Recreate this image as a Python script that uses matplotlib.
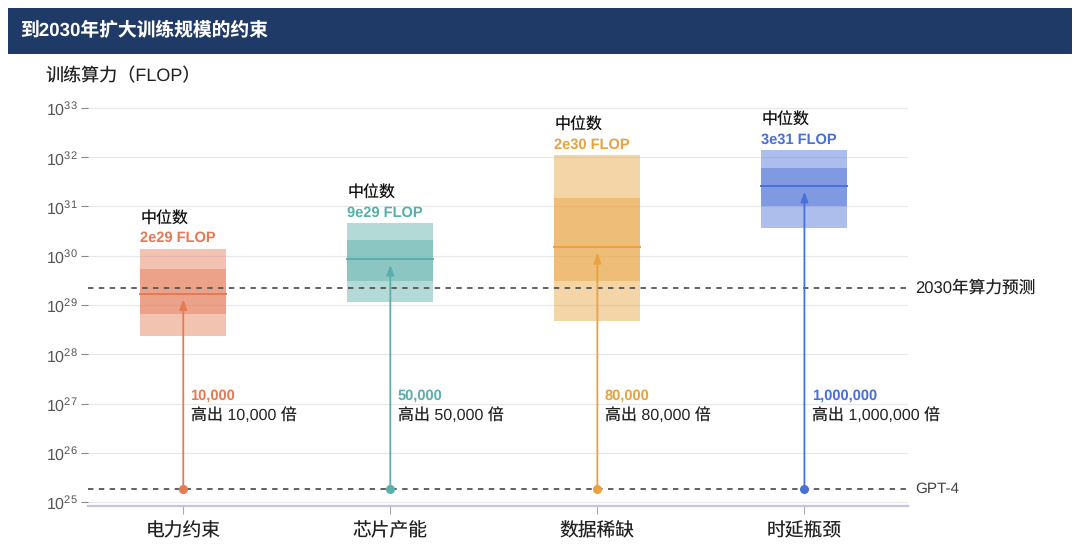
import numpy as np
import matplotlib
matplotlib.use('Agg')
from matplotlib import pyplot as plt
from matplotlib.patches import Rectangle
from matplotlib.transforms import blended_transform_factory

plt.rcParams['font.family'] = ['Liberation Sans', 'Noto Sans CJK SC', 'DejaVu Sans']
plt.rcParams['mathtext.fontset'] = 'custom'
plt.rcParams['mathtext.rm'] = 'Liberation Sans'
plt.rcParams['mathtext.it'] = 'Liberation Sans:italic'
plt.rcParams['mathtext.bf'] = 'Liberation Sans:bold'
plt.rcParams['text.hinting'] = 'no_hinting'
CJK = 'Noto Sans CJK SC'

# data
categories = ['电力约束', '芯片产能', '数据稀缺', '时延瓶颈']
colors = ['#E57A55', '#5AAFAA', '#E8A23F', '#4A6FD6']
outer_lo = [2.3e28, 1.15e29, 4.8e28, 3.6e30]
outer_hi = [1.4e30, 4.6e30, 1.1e32, 1.4e32]
inner_lo = [6.6e28, 3.1e29, 3.0e29, 1.0e31]
inner_hi = [5.4e29, 2.1e30, 1.5e31, 6.0e31]
medians = [1.7e29, 8.5e29, 1.5e30, 2.6e31]
median_labels = ['2e29 FLOP', '9e29 FLOP', '2e30 FLOP', '3e31 FLOP']
ratio_labels = ['10,000', '50,000', '80,000', '1,000,000']
gpt4 = 1.85e25
proj_2030 = 2.2e29

fig = plt.figure(figsize=(10.8, 5.46), dpi=100)

# title bar
fig.patches.append(Rectangle((0.0074, 0.901), 0.985, 0.084, transform=fig.transFigure,
                             facecolor='#1F3A66', edgecolor='none', zorder=0))
fig.text(0.0185, 0.943, '到2030年扩大训练规模的约束', color='white', fontsize=13.5,
         fontweight='bold', va='center', ha='left')
fig.text(0.042, 0.861, '训练算力（FLOP）', color='#222222', fontsize=13, va='center', ha='left')

ax = fig.add_axes([0.0815, 0.0733, 0.7592, 0.7335])
ax.set_yscale('log')
ax.set_ylim(10**24.92, 10**33.05)
ax.set_xlim(-0.46, 3.5)

ax.set_yticks([10.0**k for k in range(25, 34)])
ax.yaxis.set_minor_locator(matplotlib.ticker.NullLocator())
ax.grid(axis='y', color='#E8E8EC', linewidth=0.9, zorder=0)
ax.set_axisbelow(True)
for s in ['left', 'right', 'top']:
    ax.spines[s].set_visible(False)
ax.spines['bottom'].set_color('#C2C6D6')
ax.spines['bottom'].set_linewidth(1.6)
ax.tick_params(axis='y', length=5, width=0.8, color='#888888', labelcolor='#555555',
               labelsize=11.5, pad=2)
ax.tick_params(axis='x', length=6, width=0.8, color='#AAAAAA')
ax.set_xticks(range(len(categories)))
ax.set_xticklabels([])
# category names on a common baseline
xtr = blended_transform_factory(ax.transData, ax.transAxes)
for i, cat in enumerate(categories):
    ax.text(i, -0.076, cat, transform=xtr, ha='center', va='baseline', fontsize=13.5,
            color='#222222', fontfamily=CJK)

w = 0.415
ax.axhline(proj_2030, color='#555555', linestyle=(0, (3, 3)), linewidth=1.3, zorder=4)
ax.axhline(gpt4, color='#555555', linestyle=(0, (3, 3)), linewidth=1.3, zorder=4)
tr = blended_transform_factory(ax.transAxes, ax.transData)
ax.text(1.009, proj_2030, '2030年算力预测', transform=tr, va='center', ha='left',
        fontsize=12, color='#222222')
ax.text(1.009, gpt4, 'GPT-4', transform=tr, va='center', ha='left',
        fontsize=11, color='#444444')

for i, c in enumerate(colors):
    ax.add_patch(Rectangle((i - w / 2, outer_lo[i]), w, outer_hi[i] - outer_lo[i],
                           facecolor=c, alpha=0.45, edgecolor='none', zorder=2))
    ax.add_patch(Rectangle((i - w / 2, inner_lo[i]), w, inner_hi[i] - inner_lo[i],
                           facecolor=c, alpha=0.45, edgecolor='none', zorder=3))
    ax.plot([i - w / 2, i + w / 2], [medians[i], medians[i]], color=c, linewidth=1.4, zorder=5)
    # arrow from GPT-4 up to the median
    ax.annotate('', xy=(i, medians[i] / 1.3), xytext=(i, gpt4),
                arrowprops=dict(arrowstyle='-|>,head_length=0.6,head_width=0.22',
                                color=c, linewidth=1.3, shrinkA=0, shrinkB=0), zorder=6)
    ax.plot(i, gpt4, 'o', color=c, markersize=5.5, zorder=7)
    # median labels above box
    ax.annotate('中位数', xy=(i - w / 2, outer_hi[i]), xytext=(0, 15.5),
                textcoords='offset points', ha='left', va='bottom', fontsize=11.5,
                color='#111111', fontfamily=CJK)
    ax.annotate(median_labels[i], xy=(i - w / 2, outer_hi[i]), xytext=(0, 2.5),
                textcoords='offset points', ha='left', va='bottom', fontsize=10.5,
                color=c, fontweight='bold')
    # ratio labels
    ax.text(i + 0.035, 10**27.15, ratio_labels[i], ha='left', va='center', fontsize=10.5,
            color=c, fontweight='bold')
    ax.text(i + 0.035, 10**26.75, '高出 ' + ratio_labels[i] + ' 倍', ha='left', va='center',
            fontsize=11.5, color='#222222')

fig.savefig('out.png', dpi=100, facecolor='white')
